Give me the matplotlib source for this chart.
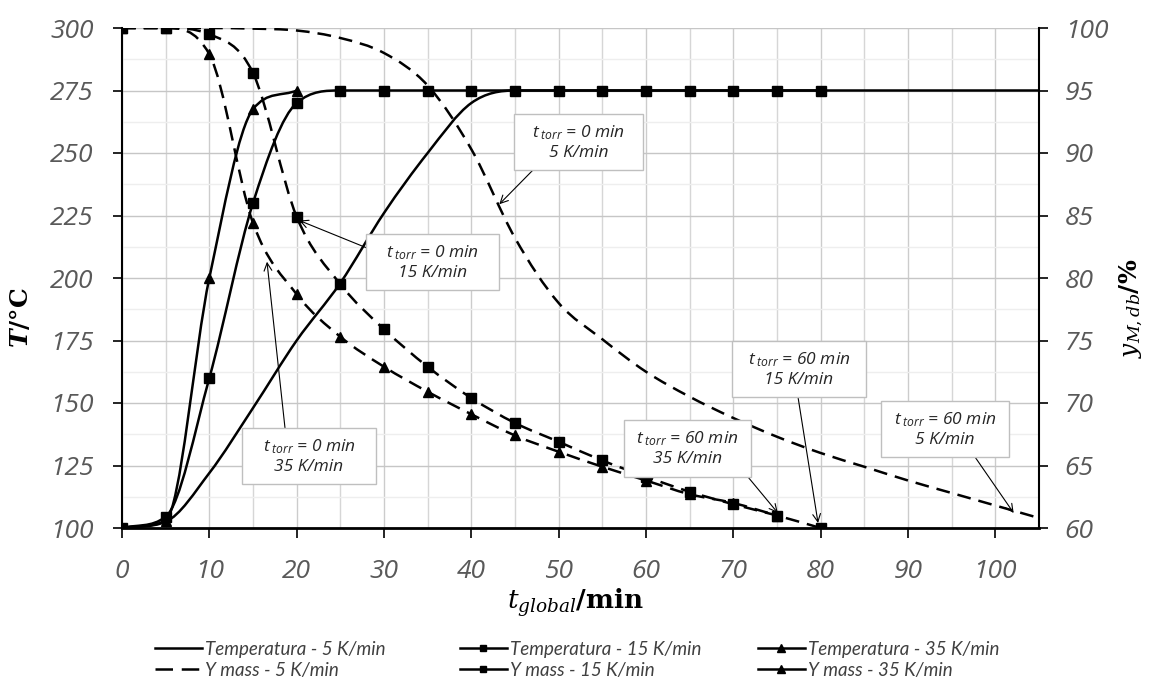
import numpy as np
import matplotlib.pyplot as plt
from matplotlib.path import Path
from matplotlib.patches import PathPatch, Rectangle
from matplotlib.lines import Line2D
from matplotlib.ticker import MultipleLocator

# time (min)
t_5 = list(range(0, 106, 5))
t_15 = list(range(0, 81, 5))
t_35_temp = list(range(0, 21, 5))
t_35_mass = list(range(0, 76, 5))

# temperature (deg C), left axis
temp_5 = [100, 102.5, 122, 148, 175, 198, 226, 250, 270, 275, 275, 275, 275,
          275, 275, 275, 275, 275, 275, 275, 275, 275]
temp_15 = [100, 104.5, 160, 230, 270, 275, 275, 275, 275, 275, 275, 275, 275,
           275, 275, 275, 275]
temp_35 = [100, 103, 200, 267.5, 275]

# Y mass (%), right axis
ymass_5 = [100, 100, 100, 99.95, 99.8, 99.2, 98.0, 95.4, 90.3, 83.2, 78.0, 75.1,
           72.5, 70.5, 68.8, 67.3, 66.0, 64.9, 63.8, 62.8, 61.8, 60.8]
ymass_15 = [100, 100, 99.5, 96.4, 84.9, 79.5, 75.9, 72.9, 70.4, 68.4, 66.9, 65.4,
            64.1, 62.9, 61.9, 61.0, 60.0]
ymass_35 = [100, 100, 97.9, 84.4, 78.7, 75.3, 72.9, 70.9, 69.1, 67.4, 66.1, 64.9,
            63.8, 62.7, 62.0, 61.0]

legend_labels = ['Temperatura - 5 K/min', 'Y mass - 5 K/min',
                 'Temperatura - 15 K/min', 'Y mass - 15 K/min',
                 'Temperatura - 35 K/min', 'Y mass - 35 K/min']

# callouts: torr time, rate, and the point on the Y mass curve they point at
callout_torr = ['0', '0', '0', '60', '60', '60']
callout_rate = ['5', '15', '35', '15', '35', '5']
callout_tip_t = [43.2, 20.3, 16.6, 79.7, 75.1, 102.1]
callout_tip_y = [85.9, 84.6, 81.3, 60.4, 61.2, 61.2]

W, H = 1152, 686


def fx(px):
    return px / W


def fy(py):
    return 1 - py / H


# box (x0, y0, x1, y1) and arrow tail, in pixels
callout_boxes = [(514, 114, 643, 170), (366, 234, 499, 290), (242, 428, 376, 484),
                 (732, 341, 866, 397), (624, 420, 751, 477), (881, 401, 1009, 457)]
callout_tails = [(533, 170), (367, 248), (285, 428), (798, 397), (748, 477), (975, 457)]


def smooth_path(x, y):
    # smoothed line through the points: catmull-rom tangents, limited so the
    # curve does not overshoot the plateaus, drawn as cubic bezier
    x = np.asarray(x, float)
    y = np.asarray(y, float)
    h = np.diff(x)
    d = np.diff(y) / h
    m = np.zeros_like(y)
    m[0], m[-1] = d[0], d[-1]
    for i in range(1, len(y) - 1):
        if d[i - 1] * d[i] > 0:
            cr = (y[i + 1] - y[i - 1]) / (x[i + 1] - x[i - 1])
            lim = 3 * min(abs(d[i - 1]), abs(d[i]))
            m[i] = np.sign(cr) * min(abs(cr), lim)
    verts = [(x[0], y[0])]
    codes = [Path.MOVETO]
    for i in range(len(x) - 1):
        verts += [(x[i] + h[i] / 3, y[i] + m[i] * h[i] / 3),
                  (x[i + 1] - h[i] / 3, y[i + 1] - m[i + 1] * h[i] / 3),
                  (x[i + 1], y[i + 1])]
        codes += [Path.CURVE4] * 3
    return Path(verts, codes)


plt.rcParams['font.family'] = ['Open Sans', 'DejaVu Sans']
plt.rcParams['mathtext.fontset'] = 'custom'
plt.rcParams['mathtext.it'] = 'Open Sans:italic'
plt.rcParams['mathtext.rm'] = 'Open Sans:italic'

LW = 1.8
DASH = (0, (5.5, 3.2))
TICK_COLOR = '#595959'

fig = plt.figure(figsize=(W / 100, H / 100), dpi=100)
ax = fig.add_axes([fx(122), fy(528), (1039 - 122) / W, 500 / H])
ax2 = ax.twinx()

# temperature curves (left axis)
for t, v in [(t_5, temp_5), (t_15, temp_15), (t_35_temp, temp_35)]:
    ax.add_patch(PathPatch(smooth_path(t, v), fill=False, edgecolor='black',
                           lw=LW, capstyle='butt', zorder=3))
ax.plot(t_15, temp_15, ls='none', marker='s', ms=6.5, color='black', zorder=4)
ax.plot(t_35_temp, temp_35, ls='none', marker='^', ms=7, color='black', zorder=4)

# Y mass curves (right axis)
for t, v in [(t_5, ymass_5), (t_35_mass, ymass_35), (t_15, ymass_15)]:
    ax2.add_patch(PathPatch(smooth_path(t, v), fill=False, edgecolor='black',
                            lw=LW, linestyle=DASH, capstyle='butt', zorder=3))
ax2.plot(t_35_mass, ymass_35, ls='none', marker='^', ms=7, color='black', zorder=4)
ax2.plot(t_15, ymass_15, ls='none', marker='s', ms=6.5, color='black', zorder=4)

# axes
ax.set_xlim(0, 105)
ax.set_ylim(100, 300)
ax2.set_ylim(60, 100)
ax.xaxis.set_major_locator(MultipleLocator(10))
ax.xaxis.set_minor_locator(MultipleLocator(5))
ax.yaxis.set_major_locator(MultipleLocator(25))
ax.yaxis.set_minor_locator(MultipleLocator(12.5))
ax2.yaxis.set_major_locator(MultipleLocator(5))

ax.set_axisbelow(True)
ax.grid(which='major', axis='x', color='#cccccc', lw=1)
ax.grid(which='minor', axis='x', color='#d6d6d6', lw=1)
ax.grid(which='major', axis='y', color='#c6c6c6', lw=1)
ax.grid(which='minor', axis='y', color='#eeeeee', lw=1)

for s in ['top', 'right']:
    ax.spines[s].set_visible(False)
for s in ['top', 'left', 'bottom']:
    ax2.spines[s].set_visible(False)
ax.spines['left'].set_linewidth(1.5)
ax.spines['bottom'].set_linewidth(2.0)
ax2.spines['right'].set_linewidth(1.5)

ax.tick_params(axis='y', which='major', direction='out', length=6.5, width=1.2,
               pad=14, labelsize=19, labelcolor=TICK_COLOR)
ax.tick_params(axis='x', which='major', direction='out', length=7, width=1.2,
               pad=15, labelsize=19, labelcolor=TICK_COLOR)
ax.tick_params(which='minor', length=0)
ax2.tick_params(axis='y', direction='out', length=6.5, width=1.2,
                pad=12, labelsize=19, labelcolor=TICK_COLOR)
for lab in ax.get_xticklabels() + ax.get_yticklabels() + ax2.get_yticklabels():
    lab.set_fontstyle('italic')

# axis titles
ax.set_xlabel(r'$\boldsymbol{t_{global}}\mathbf{/min}$', fontsize=19,
              math_fontfamily='dejavuserif', va='center')
ax.xaxis.set_label_coords((575 - 122) / 917, (528 - 603) / 500)
ax.set_ylabel(r'$\boldsymbol{T}\mathbf{/°C}$', fontsize=18,
              math_fontfamily='dejavuserif', va='center')
ax.yaxis.set_label_coords((22 - 122) / 917, (528 - 318) / 500)
ax2.set_ylabel(r'$\boldsymbol{y_{M,db}}\mathbf{/\%}$', fontsize=18,
               math_fontfamily='dejavuserif', va='center')
ax2.yaxis.set_label_coords((1131 - 122) / 917, (528 - 308) / 500)

# callouts
for torr, rate, tt, ty, box, tail in zip(callout_torr, callout_rate, callout_tip_t,
                                         callout_tip_y, callout_boxes, callout_tails):
    ax2.annotate('', xy=(tt, ty), xycoords='data',
                 xytext=(fx(tail[0]), fy(tail[1])), textcoords='figure fraction',
                 arrowprops=dict(arrowstyle='->', lw=0.8, color='black',
                                 shrinkA=0, shrinkB=0, mutation_scale=14),
                 zorder=6)
    x0, y0, x1, y1 = box
    fig.add_artist(Rectangle((fx(x0), fy(y1)), fx(x1) - fx(x0), fy(y0) - fy(y1),
                             transform=fig.transFigure, facecolor='white',
                             edgecolor='#bfbfbf', lw=1.0, zorder=7))
    fig.text(fx((x0 + x1) / 2), fy((y0 + y1) / 2),
             r'$t\,{}_{torr}$' + f' = {torr} min\n{rate} K/min',
             ha='center', va='center', fontsize=12.5, fontstyle='italic',
             color='#262626', linespacing=1.25, zorder=8)

# legend, one block per column
h_t5 = Line2D([], [], color='black', lw=LW)
h_y5 = Line2D([], [], color='black', lw=LW, ls=(0, (7, 3.5)))
h_t15 = Line2D([], [], color='black', lw=LW, marker='s', ms=5)
h_y15 = Line2D([], [], color='black', lw=LW, marker='s', ms=5)
h_t35 = Line2D([], [], color='black', lw=LW, marker='^', ms=5.5)
h_y35 = Line2D([], [], color='black', lw=LW, marker='^', ms=5.5)
handles = [h_t5, h_y5, h_t15, h_y15, h_t35, h_y35]

for col, xpx in enumerate([155, 460, 758]):
    fig.legend(handles=handles[2 * col:2 * col + 2],
               labels=legend_labels[2 * col:2 * col + 2],
               loc='upper left', bbox_to_anchor=(fx(xpx), fy(641)),
               frameon=False, borderpad=0, borderaxespad=0, numpoints=1,
               handlelength=2.5, handletextpad=0.15, labelspacing=0.2,
               prop={'family': 'Lato', 'style': 'italic', 'size': 13.5},
               labelcolor='#404040')

fig.savefig('out.png', dpi=100)
